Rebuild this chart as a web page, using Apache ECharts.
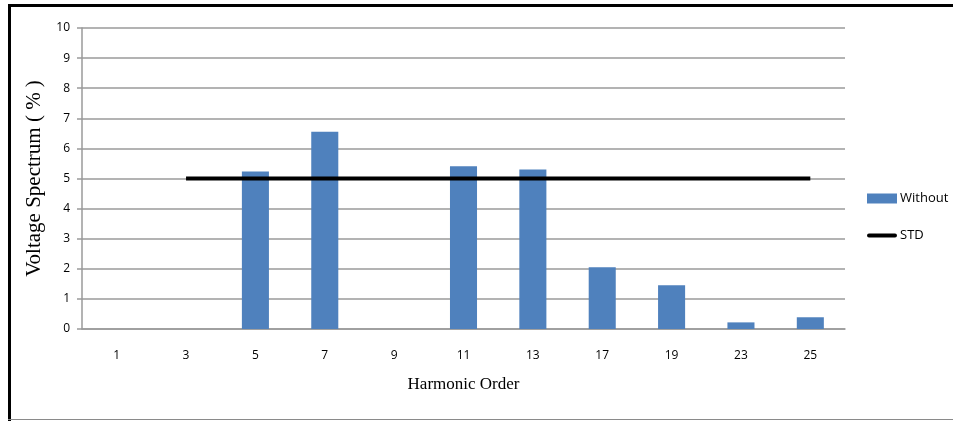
<!DOCTYPE html>
<html>
<head>
<meta charset="utf-8">
<script src="https://cdn.jsdelivr.net/npm/echarts@6/dist/echarts.min.js"></script>
<style>
html,body{margin:0;padding:0;background:#fff;}
#chart{width:953px;height:421px;}
</style>
</head>
<body>
<div id="chart"></div>
<script>
const categories = ['1','3','5','7','9','11','13','17','19','23','25'];
const withoutValues = [0, 0, 5.23, 6.55, 0, 5.41, 5.3, 2.05, 1.45, 0.22, 0.39];
const stdValues = [null, 5, 5, 5, 5, 5, 5, 5, 5, 5, 5];
const yTicks = [0, 1, 2, 3, 4, 5, 6, 7, 8, 9, 10];

const chart = echarts.init(document.getElementById('chart'), null, {renderer: 'canvas'});
const labelFont = "'Open Sans', 'Noto Sans', sans-serif";
chart.setOption({
  animation: false,
  backgroundColor: '#ffffff',
  grid: {left: 82, right: 108, top: 28, bottom: 92, containLabel: false},
  graphic: [
    {type: 'rect', shape: {x: 8, y: 4, width: 945, height: 3}, style: {fill: '#000'}, silent: true},
    {type: 'rect', shape: {x: 8, y: 4, width: 3, height: 417}, style: {fill: '#000'}, silent: true},
    {type: 'rect', shape: {x: 8, y: 419, width: 945, height: 1}, style: {fill: '#8a8a8a'}, silent: true}
  ],
  legend: {
    orient: 'vertical',
    left: 862,
    top: 187,
    itemWidth: 30,
    itemHeight: 10,
    itemGap: 24,
    textStyle: {fontFamily: labelFont, fontSize: 13, lineHeight: 10, color: '#000', padding: [0, 0, 0, -2]},
    data: [
      {name: 'Without', icon: 'rect'},
      {name: 'STD', icon: 'path://M2,3 L28,3 A2,2 0 0 1 28,7 L2,7 A2,2 0 0 1 2,3 Z', itemStyle: {color: '#000'}}
    ]
  },
  xAxis: {
    type: 'category',
    data: categories,
    name: 'Harmonic Order',
    nameLocation: 'middle',
    nameGap: 47,
    nameTextStyle: {fontFamily: "'Liberation Serif', serif", fontSize: 17, color: '#000'},
    axisLine: {lineStyle: {color: '#9a9a9a', width: 1.5}},
    axisTick: {show: false},
    axisLabel: {fontFamily: labelFont, fontSize: 12, color: '#000', margin: 21}
  },
  yAxis: {
    type: 'value',
    min: 0,
    max: 10,
    interval: 1,
    name: 'Voltage Spectrum ( % )',
    nameLocation: 'middle',
    nameGap: 34,
    nameTextStyle: {fontFamily: "'Liberation Serif', serif", fontSize: 21, color: '#000'},
    axisLine: {show: true, lineStyle: {color: '#9a9a9a', width: 1.5}},
    axisTick: {show: true, length: 5, lineStyle: {color: '#9a9a9a', width: 1.5}},
    axisLabel: {fontFamily: labelFont, fontSize: 12, color: '#000', margin: 12,
      formatter: function (v) { return yTicks.indexOf(v) >= 0 ? String(v) : ''; }},
    splitLine: {show: true, lineStyle: {color: '#9a9a9a', width: 1.5}}
  },
  series: [
    {
      name: 'Without',
      type: 'bar',
      data: withoutValues,
      barWidth: '39%',
      itemStyle: {color: '#4f81bd'}
    },
    {
      name: 'STD',
      type: 'line',
      data: stdValues,
      symbol: 'none',
      lineStyle: {color: '#000', width: 4},
      itemStyle: {color: '#000'},
      z: 5
    }
  ]
});
</script>
</body>
</html>
